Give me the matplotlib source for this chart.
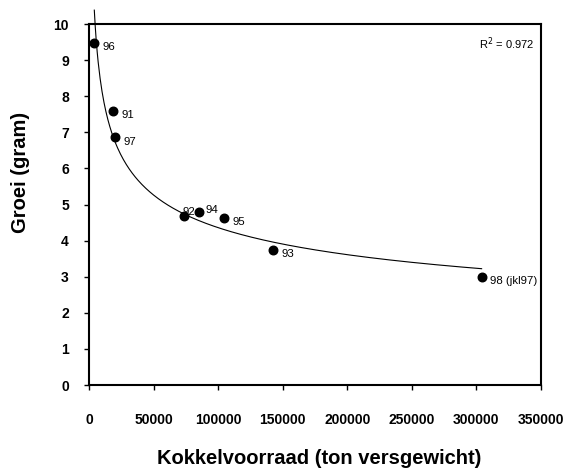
import numpy as np
import matplotlib
matplotlib.use("Agg")
import matplotlib.pyplot as plt

plt.rcParams['font.family'] = ['Liberation Sans', 'DejaVu Sans']

# kokkelvoorraad (ton versgewicht) en groei (gram) per jaar
jaren = ['96', '91', '97', '92', '94', '95', '93', '98 (jkl97)']
voorraad = [4100, 18350, 20370, 73300, 85170, 104500, 142700, 304000]
groei = [9.48, 7.59, 6.86, 4.67, 4.78, 4.63, 3.74, 3.00]
r2_label = 'R$^2$ = 0.972'

# label offsets (points)
offsets = {'92': (-1, 3), '94': (5, 2)}

fig = plt.figure(figsize=(5.68, 4.72), dpi=100)
ax = fig.add_axes([0.1567, 0.1843, 0.7958, 0.7647])

ax.scatter(voorraad, groei, s=38, color='black', zorder=3, clip_on=False)

# machtstrendlijn (zoals in Excel): fit in log-log ruimte
x = np.array(voorraad, dtype=float)
y = np.array(groei, dtype=float)
b, lna = np.polyfit(np.log(x), np.log(y), 1)
xs = np.linspace(x.min(), x.max(), 400)
ax.plot(xs, np.exp(lna) * xs ** b, color='black', lw=0.8, clip_on=False)

for naam, xv, yv in zip(jaren, voorraad, groei):
    dx, dy = offsets.get(naam, (6, -3))
    ax.annotate(naam, (xv, yv), xytext=(dx, dy), textcoords='offset points',
                fontsize=8.2, ha='left', va='center')

ax.text(0.985, 0.945, r2_label, transform=ax.transAxes, ha='right', va='center',
        fontsize=8)

ax.set_xlim(0, 350000)
ax.set_ylim(0, 10)
ax.set_xticks(np.arange(0, 350001, 50000))
ax.set_yticks(np.arange(0, 11, 1))
ax.tick_params(axis='x', direction='out', length=3.5, width=1, pad=17, labelsize=10)
ax.tick_params(axis='y', direction='out', length=3.5, width=1, pad=11, labelsize=10)
for lab in ax.get_xticklabels() + ax.get_yticklabels():
    lab.set_fontweight('bold')
for sp in ax.spines.values():
    sp.set_linewidth(1.5)

ax.set_xlabel('Kokkelvoorraad (ton versgewicht)', fontsize=14.5, fontweight='bold')
ax.xaxis.set_label_coords(0.509, -0.178)
ax.set_ylabel('Groei (gram)', fontsize=14.5, fontweight='bold')
ax.yaxis.set_label_coords(-0.13, 0.59)

fig.savefig('out.png', dpi=100)
